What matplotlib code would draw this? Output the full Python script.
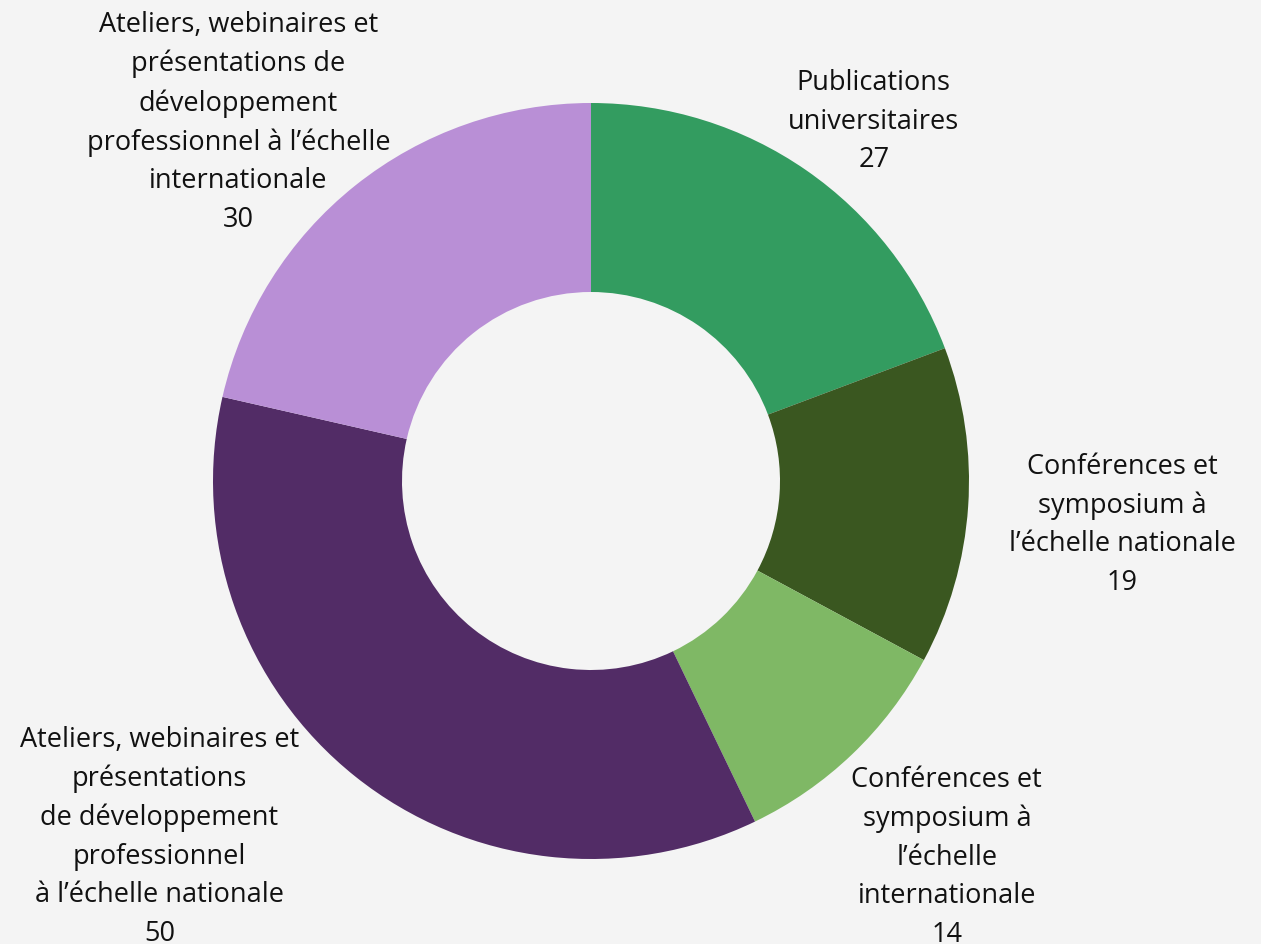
import numpy as np
import matplotlib.pyplot as plt

plt.rcParams['font.family'] = ['Open Sans', 'DejaVu Sans']

labels = [
    "Publications\nuniversitaires",
    "Conférences et\nsymposium à\nl’échelle nationale",
    "Conférences et\nsymposium à\nl’échelle\ninternationale",
    "Ateliers, webinaires et\nprésentations\nde développement\nprofessionnel\nà l’échelle nationale",
    "Ateliers, webinaires et\nprésentations de\ndéveloppement\nprofessionnel à l’échelle\ninternationale",
]
values = [27, 19, 14, 50, 30]
colors = ['#339c60', '#3a5720', '#7fb865', '#522c66', '#b98fd6']

W, H = 1261, 944
fig = plt.figure(figsize=(W / 100, H / 100), dpi=100)
fig.patch.set_facecolor('#f4f4f4')
ax = fig.add_axes([0, 0, 1, 1])
ax.set_facecolor('#f4f4f4')

cx, cy, r = 591, H - 481, 378
wedges, _ = ax.pie(values, colors=colors, startangle=90, counterclock=False,
                   radius=r, center=(cx, cy), frame=True,
                   wedgeprops=dict(width=r * 0.5, linewidth=0))
ax.set_xlim(0, W)
ax.set_ylim(0, H)
ax.axis('off')

# label placement: (angle in degrees, distance in radii)
label_pos = [(51.8, 1.21), (-4.7, 1.41), (-46.6, 1.37), (-140.5, 1.48), (134.5, 1.33)]
for lab, v, (ang, d) in zip(labels, values, label_pos):
    a = np.deg2rad(ang)
    x = cx + d * r * np.cos(a)
    y = cy + d * r * np.sin(a)
    ax.text(x, y, f"{lab}\n{v}", ha='center', va='center', fontsize=19.5,
            color='#111111', linespacing=1.5, multialignment='center')

fig.savefig('out.png', dpi=100, facecolor=fig.get_facecolor())
